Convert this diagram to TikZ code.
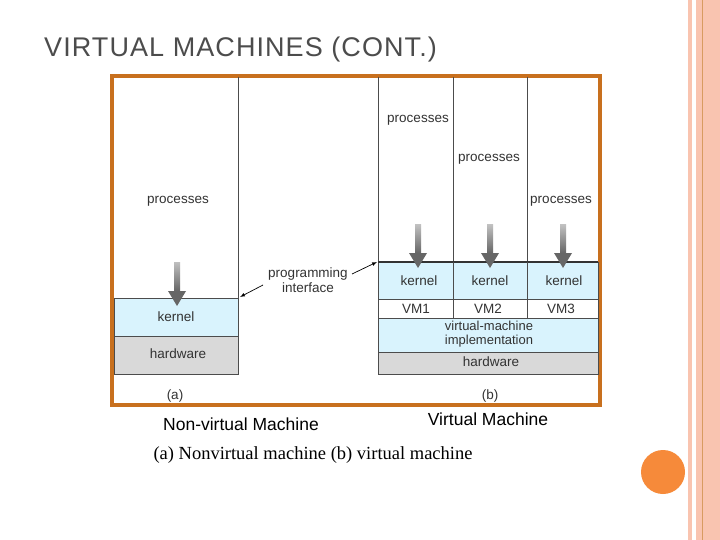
\documentclass[tikz,border=0pt]{standalone}
\usepackage{fontspec}
\setmainfont{Liberation Sans}
\newfontfamily\serifx{Liberation Serif}
\newfontfamily\titlef[LetterSpace=4]{Liberation Sans}
\definecolor{frm}{HTML}{C8701E}
\definecolor{strp}{HTML}{F9C4B0}
\definecolor{circ}{HTML}{F68A3A}
\begin{document}
\begin{tikzpicture}[x=1pt,y=-1pt,
  lbl/.style={font=\fontsize{13.5}{15}\selectfont,text=black!80,inner sep=0},
  kern/.style={fill=cyan!15,draw=black!70,line width=0.6pt},
  hw/.style={fill=black!15,draw=black!70,line width=0.6pt},
  garrow/.style={draw=none,top color=black!25,bottom color=black!60},
  ia/.style={<->,>=latex,line width=0.7pt}]
\useasboundingbox (0,0) rectangle (720,540);
\fill[white] (0,0) rectangle (720,540);
% side stripes
\fill[strp] (688,0) rectangle (692,540);
\fill[strp] (696,0) rectangle (720,540);
\draw[frm!70,line width=0.6pt] (702,0) -- (702,540);
\fill[circ] (663,472) circle (22);
\node[anchor=west,font=\titlef\fontsize{27}{30}\selectfont,text=black!70,inner sep=0] (title) at (44,50) {VIRTUAL MACHINES (CONT.)};
% frame
\draw[frm,line width=3.5pt] (112,76) rectangle (600,405);
% left
\draw[black!70,line width=0.6pt] (238,77) -- (238,298);
\draw[kern] (114,298) rectangle (238,336);
\draw[hw] (114,336) rectangle (238,374);
\node[lbl] (pa) at (178,201) {processes};
\node[lbl] (ka) at (176,317) {kernel};
\node[lbl] (ha) at (178,354) {hardware};
\fill[garrow] (174,262) rectangle (180,291);
\fill[black!60] (168,291) -- (186,291) -- (177,306) -- cycle;
% right
\foreach \x in {378,453,527} \draw[black!70,line width=0.6pt] (\x,77) -- (\x,262);
\draw[kern] (378,262) rectangle (598,299);
\draw[black!80,line width=1.3pt] (378,262) -- (598,262);
\draw[black!70,line width=0.6pt] (453,262) -- (453,318) (527,262) -- (527,318);
\draw[black!70,line width=0.6pt,fill=white] (378,299) rectangle (598,318);
\draw[black!70,line width=0.6pt] (453,299) -- (453,318) (527,299) -- (527,318);
\draw[kern] (378,318) rectangle (598,352);
\draw[hw] (378,352) rectangle (598,374);
\node[lbl] (p1) at (418,120) {processes};
\node[lbl] (p2) at (489,159) {processes};
\node[lbl] (p3) at (561,201) {processes};
\node[lbl] (k1) at (419,281) {kernel};
\node[lbl] (k2) at (490,281) {kernel};
\node[lbl] (k3) at (564,281) {kernel};
\node[lbl] (v1) at (416,309) {VM1};
\node[lbl] (v2) at (488,309) {VM2};
\node[lbl] (v3) at (561,309) {VM3};
\node[lbl,align=center,font=\fontsize{13}{14.5}\selectfont] (vmi) at (489,334) {virtual-machine\\implementation};
\node[lbl] (hb) at (491,362) {hardware};
\foreach \x in {418,490,563}{
  \fill[garrow] (\x-3,225) rectangle (\x+3,253);
  \fill[black!60] (\x-9,253) -- (\x+9,253) -- (\x,268) -- cycle;}
\node[lbl,align=center] (pi) at (308,280) {programming\\interface};
\coordinate (ta) at (240,297);
\coordinate (tb) at (377,262);
\draw[ia,->] (263,285) -- (ta);
\draw[ia,->] (352,274) -- (tb);
\node[lbl] (la) at (175,396) {(a)};
\node[lbl] (lb) at (490,396) {(b)};
\node[font=\fontsize{17.5}{20}\selectfont,inner sep=0] (nv) at (241,424) {Non-virtual Machine};
\node[font=\fontsize{17.5}{20}\selectfont,inner sep=0] (vm) at (488,419) {Virtual Machine};
\node[font=\serifx\fontsize{18.5}{21}\selectfont,inner sep=0] (cap) at (313,455) {(a) Nonvirtual machine (b) virtual machine};
\end{tikzpicture}
\end{document}
